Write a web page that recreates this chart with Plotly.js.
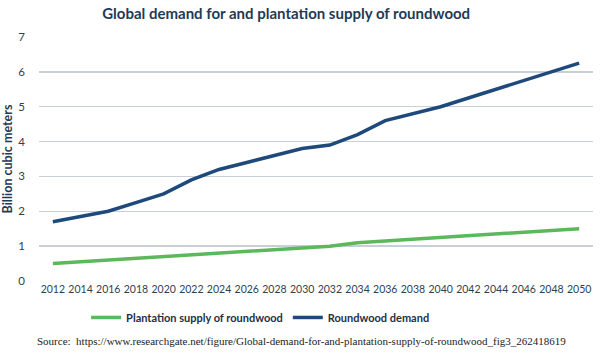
<!DOCTYPE html>
<html>
<head>
<meta charset="utf-8">
<script src="https://cdn.plot.ly/plotly-3.0.1.min.js"></script>
<style>html,body{margin:0;padding:0;background:#fff;}#chart{width:600px;height:359px;}</style>
</head>
<body>
<div id="chart"></div>
<script>
const years = ['2012','2014','2016','2018','2020','2022','2024','2026','2028','2030','2032','2034','2036','2038','2040','2042','2044','2046','2048','2050'];
const supply = [0.5,0.55,0.6,0.65,0.7,0.75,0.8,0.85,0.9,0.95,1.0,1.1,1.15,1.2,1.25,1.3,1.35,1.4,1.45,1.5];
const demand = [1.7,1.85,2.0,2.25,2.5,2.9,3.2,3.4,3.6,3.8,3.9,4.2,4.6,4.8,5.0,5.25,5.5,5.75,6.0,6.25];
const yTicks = [0,1,2,3,4,5,6,7];

const navy = '#1f3a56';
const traces = [
  {x: years, y: supply, type: 'scatter', mode: 'lines', name: 'Plantation supply of roundwood',
   line: {color: '#5cb85c', width: 3.5}},
  {x: years, y: demand, type: 'scatter', mode: 'lines', name: 'Roundwood demand',
   line: {color: '#1d4a7a', width: 3.5}}
];
const layout = {
  width: 600, height: 359,
  margin: {l: 39, r: 7, t: 37, b: 78},
  paper_bgcolor: '#fff', plot_bgcolor: '#fff',
  font: {family: 'Lato, "Open Sans", sans-serif', color: '#2f3f52', size: 11},
  title: {text: '<b>Global demand for and plantation supply of roundwood</b>',
          x: 0.477, xanchor: 'center', y: 0.962, yanchor: 'middle',
          font: {family: 'Lato, "Open Sans", sans-serif', size: 15, color: navy}},
  xaxis: {type: 'category', range: [-0.5, 19.5], showgrid: false, zeroline: false, showline: false,
          ticks: '', tickfont: {size: 10.5, color: '#2f3f52'}, fixedrange: true},
  yaxis: {range: [0, 7], tickvals: yTicks, showgrid: true, gridcolor: '#c8cfd8', gridwidth: 1.5,
          zeroline: false, showline: false, ticks: '', ticklabelstandoff: 13,
          tickfont: {size: 11.5, color: '#2f3f52'},
          title: {text: '<b>Billion cubic meters</b>', standoff: 7,
                  font: {size: 12.5, color: navy}}},
  legend: {orientation: 'h', x: 0.40, xanchor: 'center', y: -0.09, yanchor: 'top',
           font: {size: 11, color: '#1f3040', family: 'Lato, "Open Sans", sans-serif', weight: 'bold'},
           itemwidth: 30, tracegroupgap: 0},
  showlegend: true,
  annotations: [{
    text: 'Source:  https://www.researchgate.net/figure/Global-demand-for-and-plantation-supply-of-roundwood_fig3_262418619',
    xref: 'paper', yref: 'paper', x: -0.007, xanchor: 'left', y: -0.245, yanchor: 'middle',
    showarrow: false, font: {family: '"Liberation Serif", "Times New Roman", serif', size: 11, color: '#222'}
  }]
};
Plotly.newPlot('chart', traces, layout, {displayModeBar: false, staticPlot: true});
</script>
</body>
</html>
